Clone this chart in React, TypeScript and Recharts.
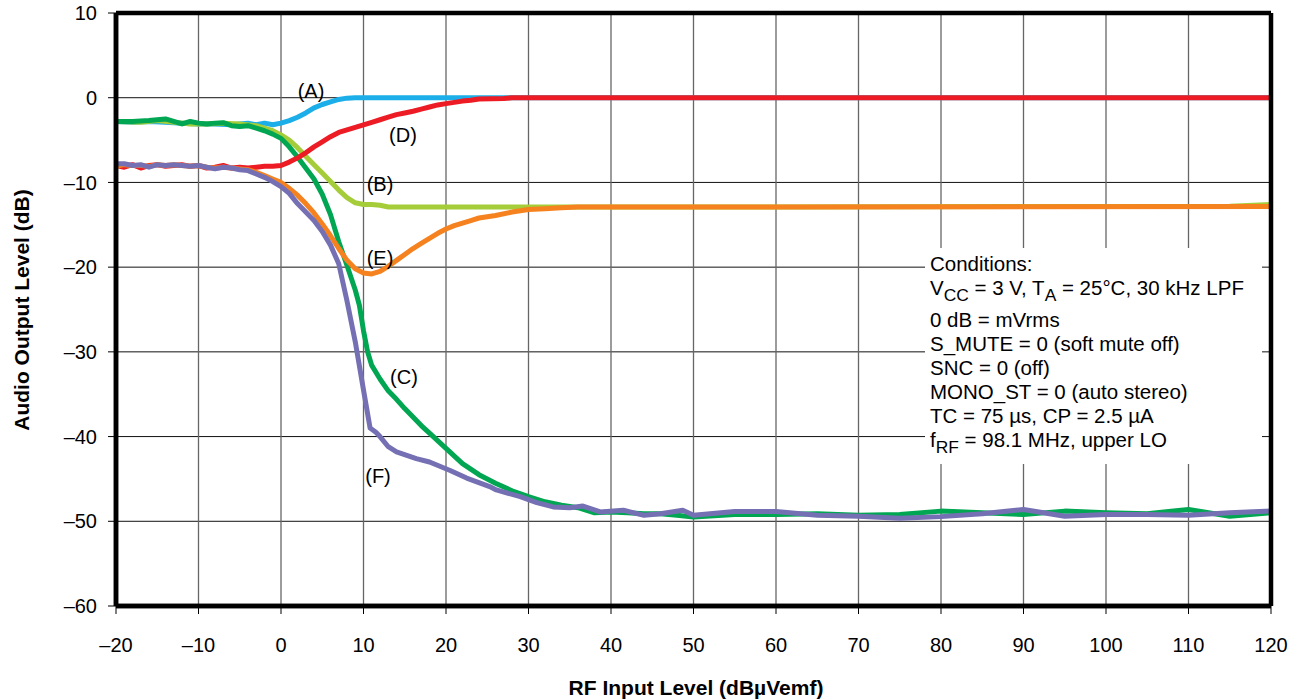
import React from 'react';
import { LineChart, Line, XAxis, YAxis, CartesianGrid, ReferenceLine } from 'recharts';

const xTicks = [-20, -10, 0, 10, 20, 30, 40, 50, 60, 70, 80, 90, 100, 110, 120];
const yTicks = [-60, -50, -40, -30, -20, -10, 0, 10];

// (A) cyan
const curveAx = [-20, -18, -16, -14, -12, -10, -8, -6, -4, -3, -2, -1, 0, 1, 2, 3, 4, 5, 6, 7, 8, 9, 20, 40, 120];
const curveAy = [-2.8, -2.9, -2.8, -2.9, -3.0, -3.1, -3.1, -3.2, -3.0, -3.2, -3.0, -3.2, -3.0, -2.7, -2.3, -1.8, -1.2, -0.8, -0.5, -0.2, -0.05, 0, 0, 0, 0];

// (B) yellow-green
const curveBx = [-20, -17, -15, -13, -11, -9, -7, -5, -3, -1, 0, 1, 2, 3, 4, 5, 6, 7, 8, 9, 10, 11, 12, 13, 15, 60, 115, 120];
const curveBy = [-2.8, -2.9, -2.7, -2.9, -3.1, -3.1, -3.0, -3.1, -3.3, -3.9, -4.4, -5.0, -5.9, -6.9, -7.9, -8.9, -9.9, -10.9, -11.8, -12.4, -12.6, -12.6, -12.7, -12.9, -12.9, -12.9, -12.8, -12.6];

// (C) green
const curveCx = [-20, -18, -16, -15, -14, -13, -12, -11, -10, -9, -8, -7, -6, -5, -4, -3, -2, -1, 0, 1, 2, 3, 4, 5, 6, 7, 8, 9, 9.5, 10, 10.5, 11, 12, 13, 14, 15, 16, 17, 18, 20, 22, 24, 26, 28, 30, 32, 34, 36, 38, 40, 42, 44, 46, 48, 50, 55, 60, 65, 70, 75, 80, 85, 90, 95, 100, 105, 110, 115, 120];
const curveCy = [-2.8, -2.8, -2.7, -2.6, -2.5, -2.8, -3.1, -2.8, -3.0, -3.1, -3.0, -2.95, -3.3, -3.4, -3.3, -3.6, -3.9, -4.3, -4.8, -5.8, -7.0, -8.3, -9.6, -11.4, -13.8, -17.0, -19.8, -22.7, -24.5, -27.5, -30.0, -31.6, -33.2, -34.6, -35.6, -36.7, -37.7, -38.7, -39.6, -41.4, -43.2, -44.5, -45.5, -46.4, -47.1, -47.7, -48.1, -48.4, -49.0, -48.9, -49.0, -49.1, -49.1, -49.3, -49.5, -49.2, -49.2, -49.1, -49.3, -49.2, -48.8, -49.0, -49.2, -48.8, -49.0, -49.1, -48.6, -49.4, -49.0];

// (D) red
const curveDx = [-20, -19, -18, -17, -16, -15, -14, -13, -12, -11, -10, -9, -8, -7, -6, -5, -4, -3, -2, -1, 0, 1, 2, 3, 4, 5, 6, 7, 8, 9, 10, 11, 12, 13, 14, 15, 16, 17, 18, 19, 20, 21, 22, 23, 24, 27, 28, 120];
const curveDy = [-8.0, -8.2, -7.9, -8.3, -8.0, -7.9, -8.1, -8.0, -7.9, -8.1, -8.0, -8.3, -8.2, -8.0, -8.3, -8.2, -8.3, -8.2, -8.1, -8.1, -8.0, -7.6, -7.1, -6.5, -5.8, -5.2, -4.6, -4.1, -3.8, -3.5, -3.2, -2.9, -2.6, -2.3, -2.0, -1.8, -1.6, -1.35, -1.1, -0.85, -0.7, -0.55, -0.4, -0.3, -0.15, -0.1, 0, 0];

// (E) orange
const curveEx = [-20, -19, -18, -17, -16, -15, -14, -13, -12, -11, -10, -9, -8, -7, -6, -5, -4, -3, -2, -1, 0, 1, 2, 3, 4, 5, 6, 7, 8, 9, 10, 11, 12, 13, 14, 15, 16, 17, 18, 19, 20, 21, 22, 23, 24, 26, 28, 30, 32, 34, 36, 60, 120];
const curveEy = [-8.1, -7.9, -8.0, -8.0, -8.1, -7.9, -8.0, -7.9, -8.0, -8.1, -8.0, -8.2, -8.3, -8.2, -8.3, -8.4, -8.5, -8.8, -9.2, -9.6, -10.0, -10.7, -11.5, -12.5, -13.6, -14.9, -16.3, -17.8, -19.2, -20.2, -20.7, -20.8, -20.5, -19.9, -19.2, -18.5, -17.8, -17.2, -16.6, -16.0, -15.5, -15.1, -14.8, -14.5, -14.2, -13.9, -13.5, -13.2, -13.1, -13.0, -12.9, -12.9, -12.85];

// (F) purple
const curveFx = [-20, -19, -18, -17, -16, -15, -14, -13, -12, -11, -10, -9, -8, -7, -6, -5, -4, -3, -2, -1, 0, 1, 2, 3, 4, 5, 6, 7, 8, 9, 10, 10.8, 11.5, 12, 13, 14, 16.4, 18, 20.5, 22.5, 25.3, 26.1, 29, 31, 33, 35, 36.6, 38.7, 41.5, 44, 46, 48.7, 50, 55, 60, 65, 70, 75, 80, 85, 90, 95, 100, 105, 110, 115, 120];
const curveFy = [-7.8, -7.8, -8.0, -7.9, -8.2, -7.9, -8.0, -7.9, -8.0, -8.1, -8.0, -8.2, -8.4, -8.2, -8.3, -8.5, -8.6, -9.0, -9.4, -9.9, -10.5, -11.3, -12.5, -13.5, -14.5, -15.8, -17.4, -19.6, -24.0, -28.8, -34.5, -39.0, -39.5, -40.0, -41.2, -41.8, -42.6, -43.0, -44.0, -44.9, -45.9, -46.3, -47.1, -47.8, -48.3, -48.4, -48.2, -48.9, -48.7, -49.3, -49.1, -48.7, -49.3, -48.85, -48.85, -49.3, -49.4, -49.65, -49.45, -49.1, -48.6, -49.4, -49.2, -49.2, -49.3, -49.0, -48.8];

const zip = (xs: number[], ys: number[]) => xs.map((x, i) => ({ x, y: ys[i] }));

const series = [
  { name: 'A', data: zip(curveAx, curveAy), color: '#1BAEE8' },
  { name: 'B', data: zip(curveBx, curveBy), color: '#A5CD39' },
  { name: 'C', data: zip(curveCx, curveCy), color: '#00A651' },
  { name: 'D', data: zip(curveDx, curveDy), color: '#ED1C24' },
  { name: 'E', data: zip(curveEx, curveEy), color: '#F5821F' },
  { name: 'F', data: zip(curveFx, curveFy), color: '#7570B3' },
];

const curveLabels = [
  { text: '(A)', left: 311, top: 91 },
  { text: '(D)', left: 403, top: 135 },
  { text: '(B)', left: 380, top: 184 },
  { text: '(E)', left: 380, top: 258 },
  { text: '(C)', left: 404, top: 377 },
  { text: '(F)', left: 378, top: 476 },
];

const FONT = '"Liberation Sans", Arial, Helvetica, sans-serif';
const fmt = (v: number) => (v < 0 ? `\u2013${Math.abs(v)}` : `${v}`);

const sub: React.CSSProperties = { fontSize: '0.85em', position: 'relative', top: '0.35em', verticalAlign: 'baseline' };

export default function App() {
  return (
    <div style={{ position: 'absolute', left: 0, top: 0, width: 1297, height: 700, background: '#fff', fontFamily: FONT }}>
      <LineChart width={1297} height={700} margin={{ top: 13, right: 26, left: 56, bottom: 54 }}>
        <CartesianGrid stroke="#111" strokeWidth={1} vertical={false} />
        <CartesianGrid stroke="#666" strokeWidth={1.3} horizontal={false} />
        <XAxis
          type="number"
          dataKey="x"
          domain={[-20, 120]}
          ticks={xTicks}
          interval={0}
          tickFormatter={fmt}
          height={40}
          tickSize={8}
          tickMargin={24}
          axisLine={{ stroke: '#000', strokeWidth: 4.5 }}
          tickLine={{ stroke: '#000', strokeWidth: 1 }}
          tick={{ fill: '#000', fontSize: 20, fontFamily: FONT }}
          allowDataOverflow
        />
        <YAxis
          type="number"
          domain={[-60, 10]}
          ticks={yTicks}
          interval={0}
          tickFormatter={fmt}
          width={60}
          tickSize={8}
          tickMargin={11}
          axisLine={{ stroke: '#000', strokeWidth: 4.5 }}
          tickLine={{ stroke: '#000', strokeWidth: 1 }}
          tick={{ fill: '#000', fontSize: 20, fontFamily: FONT }}
          allowDataOverflow
        />
        {series.map((s) => (
          <Line
            key={s.name}
            data={s.data}
            dataKey="y"
            type="linear"
            stroke={s.color}
            strokeWidth={5}
            strokeLinejoin="round"
            dot={false}
            activeDot={false}
            isAnimationActive={false}
          />
        ))}
        <ReferenceLine y={10} stroke="#000" strokeWidth={4.5} ifOverflow="visible" />
        <ReferenceLine x={120} stroke="#000" strokeWidth={4.5} ifOverflow="visible" />
        <ReferenceLine x={-20} stroke="#000" strokeWidth={4.5} ifOverflow="visible" />
        <ReferenceLine y={-60} stroke="#000" strokeWidth={4.5} ifOverflow="visible" />
      </LineChart>

      {curveLabels.map((l) => (
        <div
          key={l.text}
          style={{ position: 'absolute', left: l.left - 30, top: l.top - 12, width: 60, height: 24, lineHeight: '24px', textAlign: 'center', fontSize: 20, color: '#000' }}
        >
          {l.text}
        </div>
      ))}

      <div
        style={{ position: 'absolute', left: 925, top: 248, width: 337, height: 216, background: '#fff', fontSize: 20.5, color: '#000', lineHeight: '24px' }}
      >
        <div style={{ paddingLeft: 5, paddingTop: 4 }}>
          <div>Conditions:</div>
          <div style={{ height: 32 }}>
            V<span style={sub}>CC</span> = 3 V, T<span style={sub}>A</span> = 25°C, 30 kHz LPF
          </div>
          <div>0 dB = mVrms</div>
          <div>S_MUTE = 0 (soft mute off)</div>
          <div>SNC = 0 (off)</div>
          <div>MONO_ST = 0 (auto stereo)</div>
          <div>TC = 75 µs, CP = 2.5 µA</div>
          <div>
            f<span style={sub}>RF</span> = 98.1 MHz, upper LO
          </div>
        </div>
      </div>

      <div
        style={{ position: 'absolute', left: 446, top: 675, width: 500, textAlign: 'center', fontSize: 21, fontWeight: 'bold', lineHeight: '26px', color: '#000' }}
      >
        RF Input Level (dBµVemf)
      </div>
      <div
        style={{ position: 'absolute', left: 22 - 200, top: 310 - 13, width: 400, textAlign: 'center', fontSize: 21, fontWeight: 'bold', lineHeight: '26px', color: '#000', transform: 'rotate(-90deg)', transformOrigin: '50% 50%' }}
      >
        Audio Output Level (dB)
      </div>
    </div>
  );
}
